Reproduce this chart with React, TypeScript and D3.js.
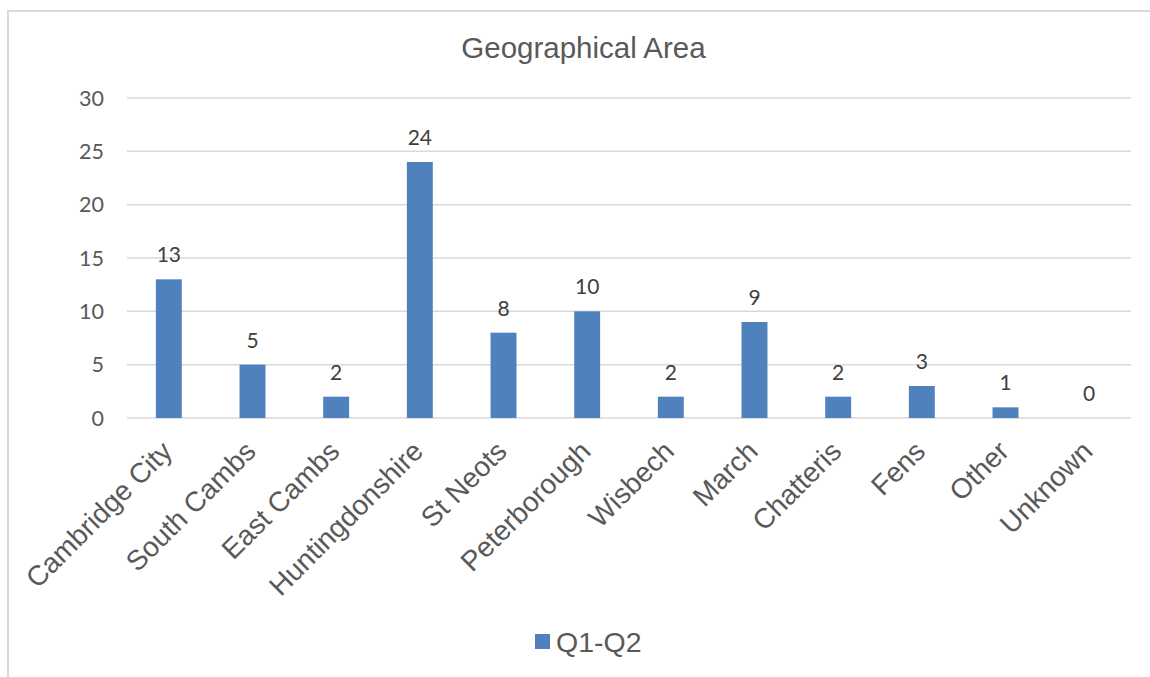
import React from "react";
import * as d3 from "d3";

const categories = [
  "Cambridge City",
  "South Cambs",
  "East Cambs",
  "Huntingdonshire",
  "St Neots",
  "Peterborough",
  "Wisbech",
  "March",
  "Chatteris",
  "Fens",
  "Other",
  "Unknown",
];
const values = [13, 5, 2, 24, 8, 10, 2, 9, 2, 3, 1, 0];
const yTicks = [0, 5, 10, 15, 20, 25, 30];
const seriesName = "Q1-Q2";
const title = "Geographical Area";

const W = 1150;
const H = 677;
const plot = { left: 127, right: 1131, top: 98, bottom: 418 };
const barColor = "#4f81bd";
const textColor = "#595959";
const gridColor = "#d9d9d9";

export default function App() {
  const x = d3
    .scaleBand<string>()
    .domain(categories)
    .range([plot.left, plot.right])
    .paddingInner(0)
    .paddingOuter(0);
  const y = d3.scaleLinear().domain([0, 30]).range([plot.bottom, plot.top]);
  const barW = x.bandwidth() * 0.31;

  return (
    <svg
      width={W}
      height={H}
      style={{ position: "absolute", left: 0, top: 0, background: "#fff" }}
    >
      <rect x={0} y={0} width={W} height={H} fill="#fff" />
      {/* chart frame, running off the right and bottom edges */}
      <rect
        x={8}
        y={11}
        width={W + 50}
        height={H + 50}
        fill="none"
        stroke={gridColor}
        strokeWidth={2}
      />
      <text
        x={583.5}
        y={58}
        textAnchor="middle"
        fontFamily="Liberation Sans, Arial, sans-serif"
        fontSize={29.5}
        fill={textColor}
      >
        {title}
      </text>

      {/* gridlines and value axis */}
      {yTicks.map((t) => (
        <g key={t}>
          <line
            x1={plot.left}
            x2={plot.right}
            y1={y(t)}
            y2={y(t)}
            stroke={gridColor}
            strokeWidth={1.5}
          />
          <text
            x={104}
            y={y(t)}
            dy="0.36em"
            textAnchor="end"
            fontFamily="Lato, 'Open Sans', sans-serif"
            fontSize={21.5}
            fill={textColor}
          >
            {t}
          </text>
        </g>
      ))}

      {/* bars */}
      {categories.map((c, i) => {
        const cx = (x(c) as number) + x.bandwidth() / 2;
        return (
          <g key={c}>
            {values[i] > 0 && (
              <rect
                x={cx - barW / 2}
                y={y(values[i])}
                width={barW}
                height={y(0) - y(values[i])}
                fill={barColor}
              />
            )}
            <text
              x={cx}
              y={y(values[i]) - 17}
              textAnchor="middle"
              fontFamily="Lato, 'Open Sans', sans-serif"
              fontSize={21}
              fill="#404040"
            >
              {values[i]}
            </text>
            <text
              transform={`translate(${cx + 5},${plot.bottom + 35}) rotate(-45)`}
              textAnchor="end"
              fontFamily="Liberation Sans, Arial, sans-serif"
              fontSize={28}
              fill={textColor}
            >
              {c}
            </text>
          </g>
        );
      })}

      {/* legend */}
      <rect x={535} y={634} width={15} height={15} fill={barColor} />
      <text
        x={556}
        y={652}
        fontFamily="Liberation Sans, Arial, sans-serif"
        fontSize={28.5}
        fill={textColor}
      >
        {seriesName}
      </text>
    </svg>
  );
}
